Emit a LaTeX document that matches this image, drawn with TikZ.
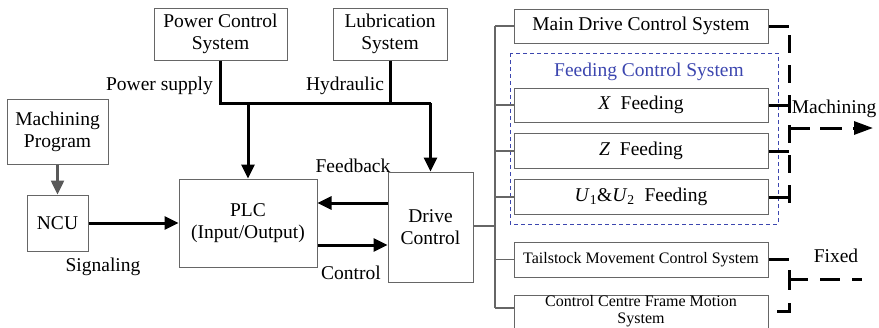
\documentclass[tikz,border=0pt]{standalone}
\usepackage{fontspec}
\setmainfont{Liberation Serif}
\usetikzlibrary{arrows.meta}

\begin{document}
\begin{tikzpicture}
	[x=1pt,y=-1pt,line cap=butt,
	%Styles
	box/.style={draw=boxgray,line width=1pt,inner sep=0pt,align=center,font=\fontsize{19.5}{22}\selectfont},
	small box/.style={box,font=\fontsize{16}{17}\selectfont},
	caption/.style={inner sep=0pt,font=\fontsize{19.5}{22}\selectfont},
	signal/.style={line width=3pt,-{Triangle[length=14pt,width=13pt]}},
	branch/.style={draw=boxgray,line width=1.5pt},
	motion/.style={line width=3pt}
	]
	
	%Colors
	\colorlet{boxgray}{black!60}	%box outlines and bus
	\definecolor{groupblue}{RGB}{60,70,175}	%feeding group
	
	\useasboundingbox (0,0) rectangle (879,327);
	
	%Left half: supplies, NCU, PLC, drive
	\node[box,minimum width=133pt,minimum height=52pt] (pcs) at (220.5,34) {Power Control\\System};
	\node[box,minimum width=114pt,minimum height=52pt] (lub) at (390,34) {Lubrication\\System};
	\node[box,minimum width=101pt,minimum height=65pt] (prog) at (57.5,131.5) {Machining\\Program};
	\node[box,minimum width=61pt,minimum height=56pt] (ncu) at (57.5,223) {NCU};
	\node[box,minimum width=138pt,minimum height=88pt] (plc) at (248,223) {PLC\\(Input/Output)};
	\node[box,minimum width=85pt,minimum height=110pt] (drv) at (430.5,227) {Drive\\Control};
	
	\coordinate (feed) at (0,103);
	\draw[motion] (pcs.south) |- (drv.north |- feed);
	\draw[motion] (lub.south) -- (lub.south |- feed);
	\draw[signal] (plc.north |- feed) -- (plc.north);
	\draw[signal] (drv.north |- feed) -- (drv.north);
	\node[caption,anchor=east] (ps) at (213,86) {Power supply};
	\node[caption] (hyd) at (345,86) {Hydraulic};
	
	\draw[signal,draw=black!65,line width=2.5pt] (prog.south) -- (ncu.north);
	\draw[signal] (ncu.east) -- (plc.west);
	\draw[signal] (drv.west |- 0,203) -- (plc.east |- 0,203);
	\draw[signal] (plc.east |- 0,245) -- (drv.west |- 0,245);
	\node[caption] (sig) at (103,267) {Signaling};
	\node[caption] (fb) at (353,166) {Feedback};
	\node[caption] (ctl) at (351,273) {Control};
	
	%Right half: subsystems
	\node[box,minimum width=254pt,minimum height=34pt] (main) at (641,26) {Main Drive Control System};
	\node[box,minimum width=254pt,minimum height=34pt] (xf) at (641,105) {\textit{X}\ \ Feeding};
	\node[box,minimum width=254pt,minimum height=35pt] (zf) at (641,151) {\textit{Z}\ \ Feeding};
	\node[box,minimum width=254pt,minimum height=35pt] (uf) at (641,197) {\textit{U}\textsubscript{1}\&\textit{U}\textsubscript{2}\ \ Feeding};
	\node[small box,minimum width=254pt,minimum height=35pt] (tail) at (641,259.5) {Tailstock Movement Control System};
	\node[small box,minimum width=254pt,minimum height=36pt] (ccf) at (641,313) {};
	\node[small box,draw=none,anchor=north] (ccftxt) at (ccf.north) {Control Centre Frame Motion\\System};
	
	\draw[groupblue,line width=1pt,dash pattern=on 4pt off 3pt] (510,53) rectangle (778,224);
	\node[caption,text=groupblue] (fcs) at (649,72) {Feeding Control System};
	
	\coordinate (bus top) at (495,26);
	\coordinate (bus bottom) at (495,308);
	\draw[branch] (drv.east |- 0,226) -- (bus top |- 0,226);
	\draw[branch] (bus top) -- (bus bottom);
	\foreach \n in {main,xf,zf,uf,tail}
		\draw[branch] (\n.west -| bus top) -- (\n.west);
	\draw[branch] (bus bottom) -- (bus bottom -| ccf.west);
	
	%Motion output
	\coordinate (mach) at (789,128);
	\coordinate (mach end) at (873,128);
	\foreach \n in {main,xf,zf,uf,tail}
		\draw[motion] (\n.east) -- (\n.east -| mach);
	\draw[motion,dash pattern=on 18pt off 12pt] (789,35) -- (789,204);
	\draw[motion,dash pattern=on 21pt off 10pt on 22pt off 11pt,-{Triangle[length=19pt,width=13pt]}] (mach) -- (mach end);
	\node[caption] (machtxt) at (834,109) {Machining};
	
	\coordinate (fix) at (789,279);
	\coordinate (fix end) at (862,279);
	\draw[motion] (789,270) -- (789,290);
	\draw[motion] (789,303) -- (789,311) -- (777,311);
	\draw[motion,dash pattern=on 19pt off 12pt on 20pt off 12pt] (fix) -- (fix end);
	\node[caption] (fixtxt) at (836,256) {Fixed};
\end{tikzpicture}
\end{document}
